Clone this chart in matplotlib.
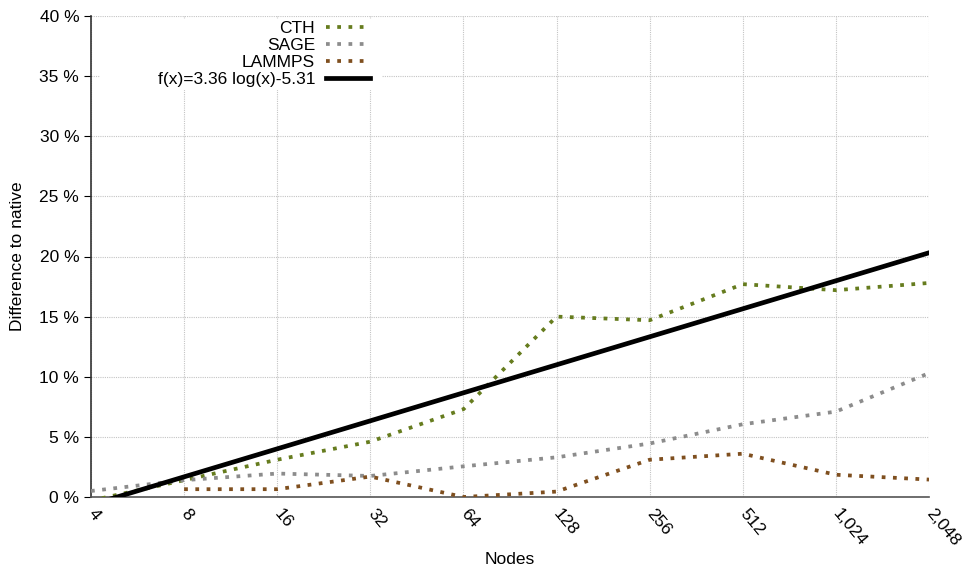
import numpy as np
import matplotlib
matplotlib.use("Agg")
import matplotlib.pyplot as plt
from matplotlib.patches import Rectangle
from matplotlib.ticker import FixedLocator, FuncFormatter

plt.rcParams['font.family'] = ['Liberation Sans', 'DejaVu Sans']

nodes = [4, 8, 16, 32, 64, 128, 256, 512, 1024, 2048]
tick_labels = ["4", "8", "16", "32", "64", "128", "256", "512", "1,024", "2,048"]
cth = [-0.3, 1.4, 3.1, 4.6, 7.3, 15.0, 14.7, 17.7, 17.2, 17.8]
sage = [0.5, 1.4, 1.95, 1.75, 2.55, 3.3, 4.45, 6.05, 7.1, 10.3]
lammps_nodes = [8, 16, 32, 64, 128, 256, 512, 1024, 2048]
lammps = [0.65, 0.65, 1.7, 0.0, 0.45, 3.1, 3.6, 1.85, 1.45]
fit_a, fit_b = 3.36, -5.31

fig = plt.figure(figsize=(9.64, 5.71), dpi=100)
ax = fig.add_axes([91/964, 1-497/571, (929-91)/964, (497-16)/571])

dot = (0, (1, 2))
lw = 2.7
ax.plot(nodes, cth, color='#667c1e', lw=lw, ls=dot, label='CTH', zorder=3)
ax.plot(nodes, sage, color='#8c8c8c', lw=lw, ls=dot, label='SAGE', zorder=3)
ax.plot(lammps_nodes, lammps, color='#7f4f1f', lw=lw, ls=dot, label='LAMMPS', zorder=3)
xf = np.geomspace(4, 2048, 200)
ax.plot(xf, fit_a*np.log(xf) + fit_b, color='black', lw=3.4,
        label='f(x)=3.36 log(x)-5.31', zorder=4)

ax.set_xscale('log', base=2)
ax.set_xlim(4, 2048)
ax.set_ylim(0, 40)
ax.xaxis.set_major_locator(FixedLocator(nodes))
ax.xaxis.set_minor_locator(FixedLocator([]))
ax.set_xticklabels(tick_labels, rotation=-50, ha='left', va='center', rotation_mode='anchor')
ax.set_yticks(range(0, 41, 5))
ax.yaxis.set_major_formatter(FuncFormatter(lambda v, p: f"{int(v)} %"))
ax.tick_params(axis='both', labelsize=12.5, colors='black')
ax.tick_params(axis='y', length=5, width=0.8)
ax.tick_params(axis='x', length=0, pad=10)

ax.grid(True, color='#c4c4c4', ls=(0, (1, 1)), lw=0.8)
ax.set_axisbelow(True)
for s in ['top', 'right']:
    ax.spines[s].set_visible(False)
ax.spines['left'].set_color('#333333')
ax.spines['bottom'].set_color('#555555')
ax.spines['left'].set_linewidth(1.2)
ax.spines['bottom'].set_linewidth(1.2)

ax.set_xlabel('Nodes', fontsize=12.5, labelpad=2)
ax.set_ylabel('Difference to native', fontsize=12.5, labelpad=10)

# white key box hiding the grid behind the legend
ax.add_patch(Rectangle((0.0107, 0.846), 0.337, 0.148, transform=ax.transAxes,
                       facecolor='white', edgecolor='none', zorder=2))

leg = ax.legend(loc='upper right', bbox_to_anchor=(0.339, 1.0), markerfirst=False,
                frameon=False, fontsize=12.5, handlelength=2.5, labelspacing=0.1,
                borderpad=0.3, borderaxespad=0.0, handletextpad=0.65)
for t in leg.get_texts():
    t.set_ha('right')
leg._legend_box.align = 'right'

fig.savefig('out.png', dpi=100)
